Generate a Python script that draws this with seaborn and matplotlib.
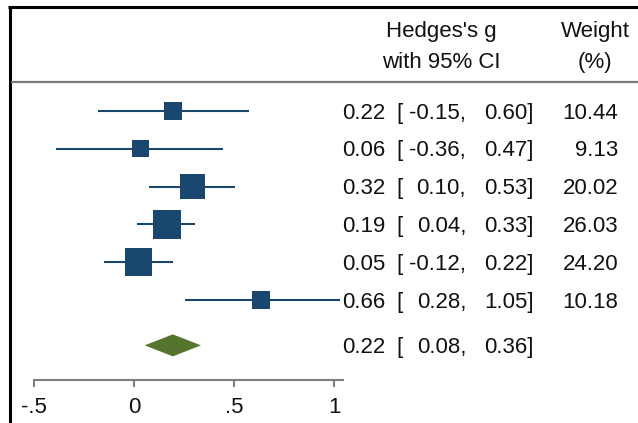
import numpy as np
import pandas as pd
import matplotlib
matplotlib.use("Agg")
import matplotlib.pyplot as plt
import matplotlib.transforms as mtransforms
from matplotlib.lines import Line2D
import seaborn as sns

# ---- data ----
effects = [0.22, 0.06, 0.32, 0.19, 0.05, 0.66]
lower = [-0.15, -0.36, 0.10, 0.04, -0.12, 0.28]
upper = [0.60, 0.47, 0.53, 0.33, 0.22, 1.05]
weights = [10.44, 9.13, 20.02, 26.03, 24.20, 10.18]
overall = [0.22, 0.08, 0.36]  # estimate, lower, upper
tick_values = [-0.5, 0, 0.5, 1]
tick_labels = ["-.5", "0", ".5", "1"]
header_es = ["Hedges's g", "with 95% CI"]
header_w = ["Weight", "(%)"]

sns.set_theme(style="white")
plt.rcParams["font.family"] = ["Liberation Sans", "DejaVu Sans"]

W, H = 638, 423
fig = plt.figure(figsize=(W / 100, H / 100), dpi=100)
fig.patch.set_facecolor("white")

navy = "#1a476f"
green = "#55752f"
txt = "#111111"
FS = 16

# main axes covering full figure, pixel-calibrated
ax = fig.add_axes([0, 0, 1, 1])
x0px, xscale = 128.6, 201.0
row0px, rowstep = 111.0, 37.8
ax.set_xlim(-x0px / xscale, (W - x0px) / xscale)
ax.set_ylim((H - row0px) / rowstep, -row0px / rowstep)
ax.axis("off")

n = len(effects)
rows = np.arange(n)
df = pd.DataFrame({"es": effects, "lo": lower, "hi": upper, "w": weights, "row": rows})

ax.hlines(df["row"], df["lo"], df["hi"], color=navy, lw=1.5, zorder=2)
k = 16.26
sns.scatterplot(data=df, x="es", y="row", size="w",
                sizes=(k * min(weights), k * max(weights)),
                size_norm=(min(weights), max(weights)),
                marker="s", color=navy, linewidth=0, legend=False,
                ax=ax, zorder=3)

# overall diamond
orow = n + 0.2
dh = 11 / rowstep
ax.fill([overall[1], overall[0], overall[2], overall[0]],
        [orow, orow - dh, orow, orow + dh], color=green, lw=0, zorder=3)

# text columns
tr = mtransforms.blended_transform_factory(fig.transFigure, ax.transData)
base_off = 7.5 / rowstep

def row_text(r, es, lo, hi, w=None):
    y = r + base_off
    ax.text(342 / W, y, f"{es:.2f}", transform=tr, ha="left", va="baseline", fontsize=FS, color=txt)
    ax.text(396 / W, y, "[", transform=tr, ha="left", va="baseline", fontsize=FS, color=txt)
    ax.text(466 / W, y, f"{lo:.2f},", transform=tr, ha="right", va="baseline", fontsize=FS, color=txt)
    ax.text(534 / W, y, f"{hi:.2f}]", transform=tr, ha="right", va="baseline", fontsize=FS, color=txt)
    if w is not None:
        ax.text(618 / W, y, f"{w:.2f}", transform=tr, ha="right", va="baseline", fontsize=FS, color=txt)

for r, es, lo, hi, w in zip(rows, effects, lower, upper, weights):
    row_text(r, es, lo, hi, w)
row_text(orow, overall[0], overall[1], overall[2])

# headers
fig.text(441 / W, 1 - 37 / H, header_es[0], ha="center", va="baseline", fontsize=FS, color=txt)
fig.text(441 / W, 1 - 68 / H, header_es[1], ha="center", va="baseline", fontsize=FS, color=txt)
fig.text(595 / W, 1 - 37 / H, header_w[0], ha="center", va="baseline", fontsize=FS, color=txt)
fig.text(595 / W, 1 - 68 / H, header_w[1], ha="center", va="baseline", fontsize=FS, color=txt)

# frame lines
fig.add_artist(Line2D([8 / W, 1], [1 - 7.5 / H, 1 - 7.5 / H], transform=fig.transFigure,
                      color="black", lw=2.2, solid_capstyle="butt"))
fig.add_artist(Line2D([9.5 / W, 9.5 / W], [1 - 6 / H, 0], transform=fig.transFigure,
                      color="black", lw=2.2, solid_capstyle="butt"))
fig.add_artist(Line2D([11 / W, 1], [1 - 82 / H, 1 - 82 / H], transform=fig.transFigure,
                      color="#7a7a7a", lw=1.6, solid_capstyle="butt"))

# bottom scale axis
ax2 = fig.add_axes([34 / W, 1 - 380 / H, 309 / W, 0.001])
ax2.set_xlim(-0.5, -0.5 + 309 / 200)
ax2.set_yticks([])
ax2.patch.set_visible(False)
for s in ["left", "right", "top"]:
    ax2.spines[s].set_visible(False)
ax2.spines["bottom"].set_color("#808080")
ax2.spines["bottom"].set_linewidth(1.5)
ax2.set_xticks(tick_values)
ax2.set_xticklabels(tick_labels)
ax2.tick_params(axis="x", direction="out", length=5, width=1.5, color="#808080",
                labelsize=FS, labelcolor=txt, pad=7, bottom=True)

fig.savefig("out.png", dpi=100, facecolor="white")
